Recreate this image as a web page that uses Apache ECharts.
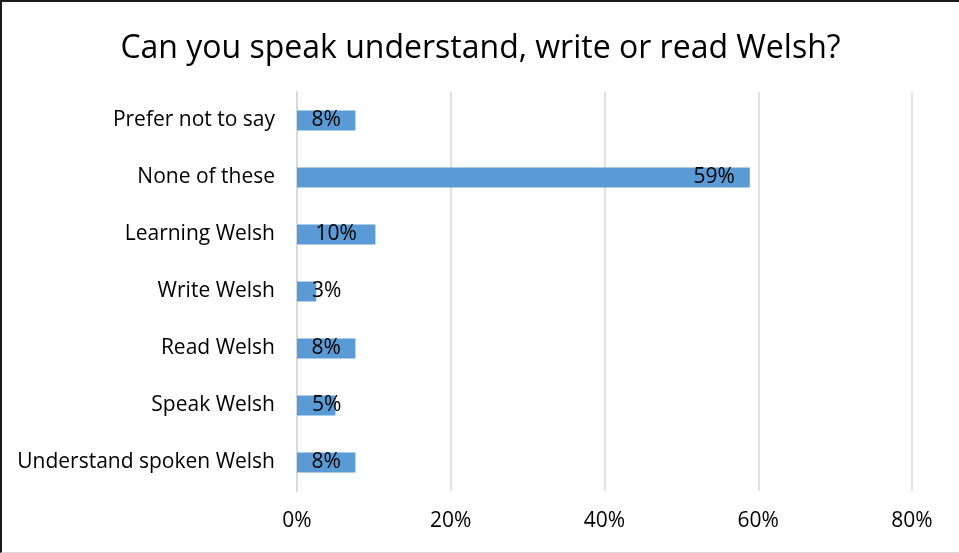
<!DOCTYPE html>
<html>
<head>
<meta charset="utf-8">
<script src="https://cdn.jsdelivr.net/npm/echarts@6/dist/echarts.min.js"></script>
<style>
  html, body { margin: 0; padding: 0; background: #fff; }
  #chart {
    width: 957px;
    height: 550px;
    border-top: 2px solid #1a1a1a;
    border-left: 2px solid #1a1a1a;
    border-bottom: 1px solid #d9d9d9;
  }
</style>
</head>
<body>
<div id="chart"></div>
<script>
// answers, listed bottom to top as the category axis draws them
const categories = [
  "Understand spoken Welsh",
  "Speak Welsh",
  "Read Welsh",
  "Write Welsh",
  "Learning Welsh",
  "None of these",
  "Prefer not to say"
];
const percentValues = [7.6, 5.0, 7.6, 2.5, 10.2, 58.9, 7.6];
const tickValues = [0, 20, 40, 60, 80];

const FONT = "Open Sans";

// label placement like the spreadsheet: long bars get label inside end,
// short ones are pushed a little off the axis
const barData = percentValues.map((v) => {
  let label;
  if (v >= 20) {
    label = { position: "insideRight", distance: 15 };
  } else if (v >= 7) {
    label = { position: "inside" };
  } else {
    label = { position: "insideLeft", distance: 15 };
  }
  return { value: v, label: label };
});

const myChart = echarts.init(document.getElementById("chart"));
myChart.setOption({
  animation: false,
  title: {
    text: "Can you speak understand, write or read Welsh?",
    left: "center",
    top: 26,
    textStyle: {
      fontFamily: FONT,
      fontWeight: "normal",
      fontSize: 32,
      color: "#000"
    }
  },
  grid: {
    left: 295,
    right: 47,
    top: 90,
    bottom: 61
  },
  xAxis: {
    type: "value",
    min: tickValues[0],
    max: tickValues[tickValues.length - 1],
    interval: 20,
    axisLine: { show: false },
    axisTick: { show: false },
    axisLabel: {
      formatter: "{value}%",
      margin: 20,
      fontFamily: FONT,
      fontSize: 21,
      color: "#000"
    },
    splitLine: {
      lineStyle: { color: "#d9d9d9", width: 1.5 }
    }
  },
  yAxis: {
    type: "category",
    data: categories,
    axisLine: { lineStyle: { color: "#d9d9d9", width: 2 } },
    axisTick: { show: false },
    axisLabel: {
      margin: 22,
      fontFamily: FONT,
      fontSize: 21,
      color: "#000"
    }
  },
  series: [
    {
      type: "bar",
      data: barData,
      barWidth: "35%",
      itemStyle: { color: "#5b9bd5" },
      label: {
        show: true,
        formatter: (p) => Math.round(p.value) + "%",
        fontFamily: FONT,
        fontSize: 21,
        color: "#000"
      }
    }
  ]
});
</script>
</body>
</html>
